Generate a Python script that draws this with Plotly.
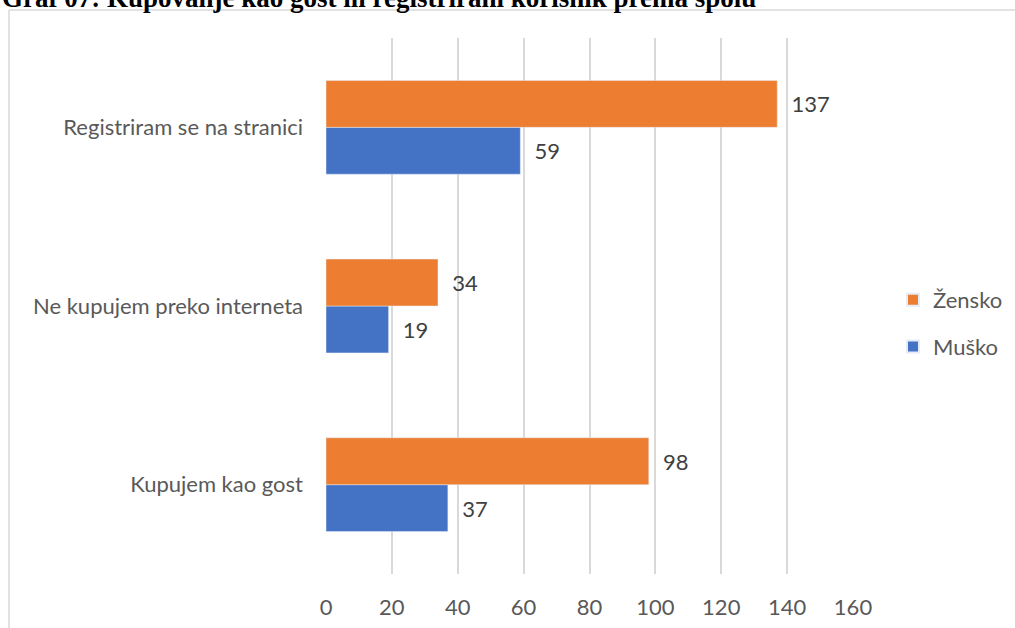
import plotly.graph_objects as go

categories = ["Kupujem kao gost", "Ne kupujem preko interneta", "Registriram se na stranici"]
musko = [37, 19, 59]
zensko = [98, 34, 137]
x_ticks = [0, 20, 40, 60, 80, 100, 120, 140, 160]

title_text = "Graf 07: Kupovanje kao gost ili registrirani korisnik prema spolu"

FONT = "Lato, Open Sans, sans-serif"
FS = 22
W, H = 1015, 628
L, R, T, B = 326, 162, 38, 54

fig = go.Figure()

fig.add_trace(
    go.Bar(
        y=categories,
        x=musko,
        name="Muško",
        orientation="h",
        marker=dict(color="#4472c4"),
        texttemplate="\u00a0\u00a0%{x}",
        textposition="outside",
        textfont=dict(size=FS, color="#404040", family=FONT),
        cliponaxis=False,
        legendgroup="m",
        legendrank=2,
    )
)
fig.add_trace(
    go.Bar(
        y=categories,
        x=zensko,
        name="Žensko",
        orientation="h",
        marker=dict(color="#ed7d31"),
        texttemplate="\u00a0\u00a0%{x}",
        textposition="outside",
        textfont=dict(size=FS, color="#404040", family=FONT),
        cliponaxis=False,
        legendgroup="z",
        legendrank=1,
    )
)

plot_w = W - L - R
plot_h = H - T - B


def px_x(p):
    return (p - L) / plot_w


def px_y(p):
    return (H - B - p) / plot_h


# chart frame (cropped at right and bottom)
fig.add_shape(
    type="line", xref="paper", yref="paper",
    x0=px_x(9), x1=px_x(1030), y0=px_y(10), y1=px_y(10),
    line=dict(color="#d9d9d9", width=1.5),
)
fig.add_shape(
    type="line", xref="paper", yref="paper",
    x0=px_x(9), x1=px_x(9), y0=px_y(10), y1=px_y(640),
    line=dict(color="#d9d9d9", width=1.5),
)

# title, partly cut off at the top like in the source
fig.add_annotation(
    text="<b>" + title_text + "</b>",
    xref="paper", yref="paper",
    x=px_x(0), y=px_y(15),
    xanchor="left", yanchor="bottom",
    showarrow=False,
    font=dict(family="Liberation Serif, Times New Roman, serif", size=27, color="#000000"),
)

fig.update_layout(
    width=W,
    height=H,
    barmode="group",
    bargap=0.475,
    bargroupgap=0,
    plot_bgcolor="white",
    paper_bgcolor="white",
    margin=dict(l=L, r=R, t=T, b=B, pad=0, autoexpand=False),
    font=dict(family=FONT, size=FS, color="#595959"),
    xaxis=dict(
        range=[0, 160],
        tickvals=x_ticks,
        showgrid=True,
        gridcolor="#d9d9d9",
        gridwidth=1.5,
        zeroline=False,
        showline=False,
        tickfont=dict(size=FS, color="#595959"),
        ticklabelstandoff=18,
    ),
    yaxis=dict(
        showgrid=False,
        zeroline=False,
        showline=False,
        tickfont=dict(size=FS, color="#595959"),
        ticklabelstandoff=22,
    ),
    legend=dict(
        x=px_x(893),
        y=px_y(279),
        xanchor="left",
        yanchor="top",
        traceorder="grouped",
        tracegroupgap=15,
        itemsizing="constant",
        font=dict(size=FS, color="#595959"),
        bgcolor="rgba(0,0,0,0)",
    ),
)

fig.write_html(
    "out.html",
    config={"displayModeBar": False},
    post_script="document.body.style.margin='0';",
)
